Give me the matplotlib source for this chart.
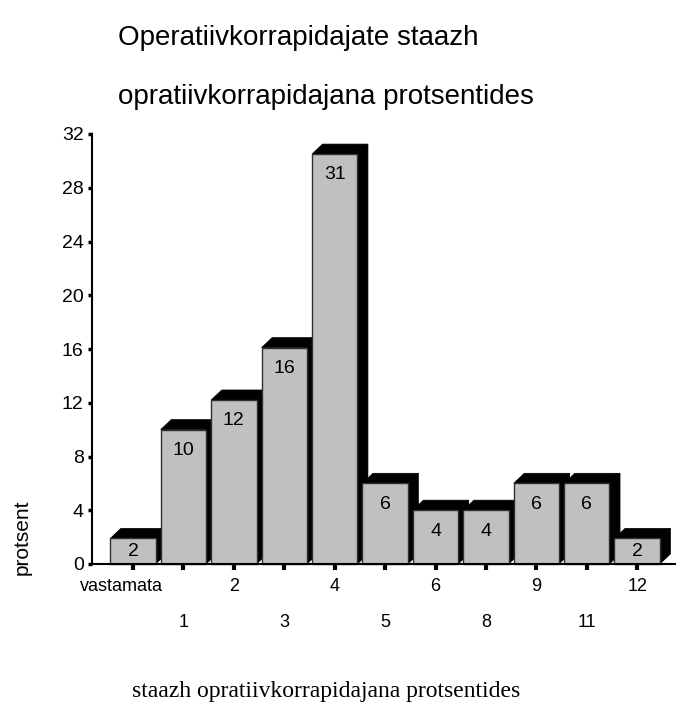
import matplotlib
matplotlib.use("Agg")
import matplotlib.pyplot as plt
from matplotlib.patches import Rectangle, Polygon
from matplotlib.transforms import ScaledTranslation

categories = ["vastamata", "1", "2", "3", "4", "5", "6", "8", "9", "11", "12"]
heights = [1.9, 10, 12.2, 16.1, 30.5, 6, 4, 4, 6, 6, 1.9]
labels = ["2", "10", "12", "16", "31", "6", "4", "4", "6", "6", "2"]
y_ticks = [0, 4, 8, 12, 16, 20, 24, 28, 32]

title1 = "Operatiivkorrapidajate staazh"
title2 = "opratiivkorrapidajana protsentides"
xlabel = "staazh opratiivkorrapidajana protsentides"
ylabel = "protsent"

W, H = 676, 704
fig = plt.figure(figsize=(W / 100, H / 100), dpi=100)
ax = fig.add_axes([92 / W, (H - 564) / H, (W - 92) / W, (564 - 134) / H])

sans = "Liberation Sans"
bar_w = 0.9
dx, dy = 0.21, 0.75

for i, (v, lab) in enumerate(zip(heights, labels)):
    x0 = i - bar_w / 2
    x1 = i + bar_w / 2
    z = 2 + i * 0.01
    side = Polygon([(x1, 0), (x1 + dx, dy), (x1 + dx, v + dy), (x1, v)],
                   closed=True, facecolor="black", edgecolor="black", lw=0.5,
                   zorder=z, clip_on=False)
    top = Polygon([(x0, v), (x0 + dx, v + dy), (x1 + dx, v + dy), (x1, v)],
                  closed=True, facecolor="black", edgecolor="black", lw=0.5,
                  zorder=z, clip_on=False)
    front = Rectangle((x0, 0), bar_w, v, facecolor="#C0C0C0",
                      edgecolor="#303030", lw=1.0, zorder=z + 0.005, clip_on=False)
    ax.add_patch(side)
    ax.add_patch(top)
    ax.add_patch(front)
    ly = max(v - 1.55, v / 2)
    ax.text(i, ly, lab, ha="center", va="center", fontsize=14,
            family=sans, zorder=5)

ax.set_xlim(-0.813, 10.77)
ax.set_ylim(0, 32)

ax.set_yticks(y_ticks)
ax.set_yticklabels([str(t) for t in y_ticks], family=sans, fontsize=14)

even = list(range(0, len(categories), 2))
odd = list(range(1, len(categories), 2))
ax.set_xticks(even)
ax.set_xticklabels([categories[i] for i in even], family=sans, fontsize=13)
ax.set_xticks(odd, minor=True)
ax.set_xticklabels([categories[i] for i in odd], minor=True, family=sans, fontsize=13)

ax.tick_params(axis="y", direction="out", length=3, width=2.5, pad=3)
ax.tick_params(axis="x", which="major", direction="out", length=4, width=3, pad=6)
ax.tick_params(axis="x", which="minor", direction="out", length=4, width=3, pad=32)

first = ax.get_xticklabels()[0]
first.set_transform(first.get_transform() + ScaledTranslation(-0.12, 0, fig.dpi_scale_trans))

for s in ["top", "right"]:
    ax.spines[s].set_visible(False)
for s in ["left", "bottom"]:
    ax.spines[s].set_linewidth(1.5)
    ax.spines[s].set_zorder(10)

fig.text(118 / W, 1 - 38 / H, title1, ha="left", va="center", fontsize=20, family=sans)
fig.text(118 / W, 1 - 97 / H, title2, ha="left", va="center", fontsize=20, family=sans)
fig.text(22 / W, 1 - 537 / H, ylabel, ha="center", va="center", rotation=90,
         fontsize=15, family=sans)
fig.text(326 / W, 1 - 691 / H, xlabel, ha="center", va="center", fontsize=17,
         family="Liberation Serif")

fig.savefig("out.png", dpi=100)
